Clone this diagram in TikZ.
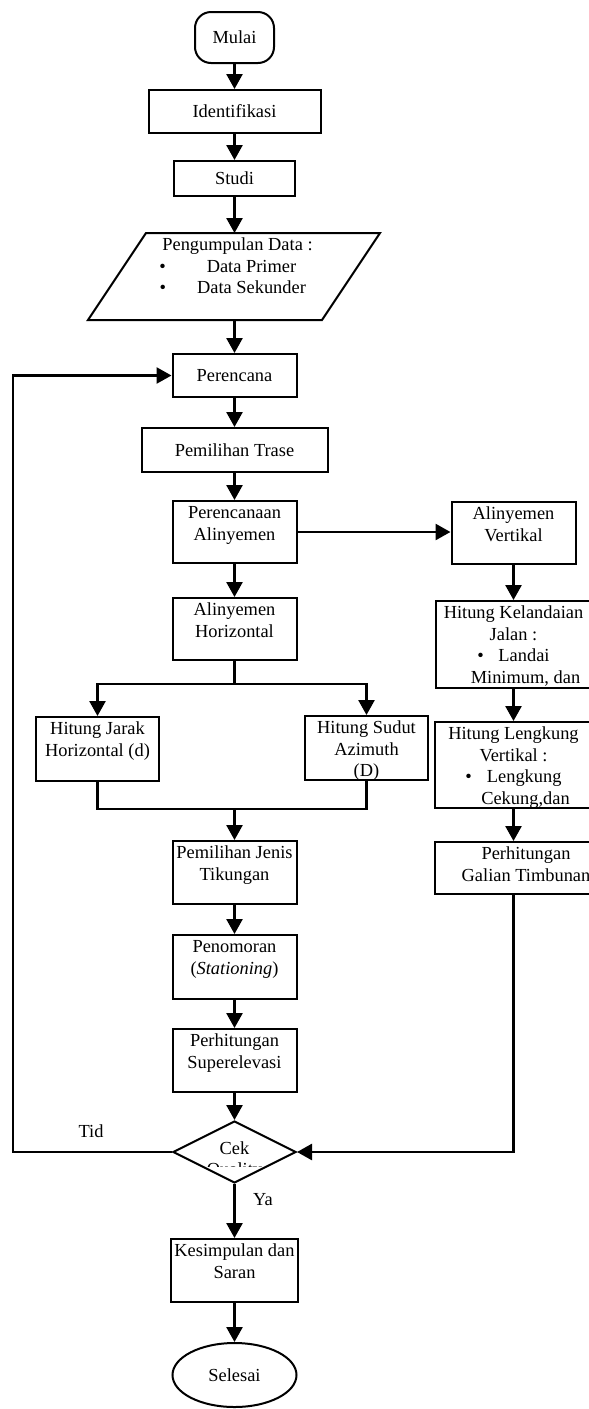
\documentclass[tikz,border=0pt]{standalone}
\usepackage{fontspec}
\setmainfont{Liberation Serif}
\usetikzlibrary{arrows.meta,shapes.geometric}
\newcommand{\flowfont}{\fontsize{18.4pt}{21.5pt}\selectfont}
\newcommand{\toptext}[3]{\parbox[c][#2][t]{#1}{\centering\rule{0pt}{17.5pt}#3}}

\begin{document}
\begin{tikzpicture}[x=1pt,y=-1pt,
  every node/.style={font=\flowfont},
  box/.style={draw,line width=2pt,inner sep=0pt,anchor=north},
  arr/.style={line width=2.6pt,-{Triangle[length=15pt,width=16pt]}},
  link/.style={line width=2.4pt}]
\useasboundingbox (0,0) rectangle (589,1409);

% Main column
\node[box,rounded corners=16pt,minimum width=79pt,minimum height=51pt] (mulai) at (234.5,11) {Mulai};
\node[box,minimum width=172pt,minimum height=43pt] (ident) at (234.5,89) {Identifikasi};
\node[box,minimum width=121pt,minimum height=35pt] (studi) at (234.5,160) {Studi};
\draw[line width=2pt] (146,233) -- (380,233) -- (322,320) -- (88,320) -- cycle;
\node[anchor=north,inner sep=0pt] (data) at (234.5,233) {\toptext{234pt}{87pt}{\hspace*{6pt}Pengumpulan Data :\\
  \hspace*{34pt}\llap{\textbullet\hspace{41pt}}Data Primer\\
  \hspace*{34pt}\llap{\textbullet\hspace{31pt}}Data Sekunder}};
\node[box,minimum width=124pt,minimum height=43pt] (perencana) at (234.5,353) {Perencana};
\node[box,minimum width=186pt,minimum height=44pt] (trase) at (234.5,427) {Pemilihan Trase};
\node[box] (alin) at (234.5,500) {\toptext{124pt}{62pt}{Perencanaan\\Alinyemen}};
\node[box] (horz) at (234.5,597) {\toptext{124pt}{62pt}{Alinyemen\\Horizontal}};
\node[box] (jarak) at (97.5,716) {\toptext{123pt}{64pt}{Hitung Jarak\\Horizontal (d)}};
\node[box] (sudut) at (366.5,715) {\toptext{123pt}{64pt}{Hitung Sudut\\Azimuth\\(D)}};
\node[box] (jenis) at (234.5,840) {\toptext{124pt}{63pt}{Pemilihan Jenis\\Tikungan}};
\node[box] (nomor) at (234.5,934) {\toptext{124pt}{64pt}{Penomoran\\(\textit{Stationing})}};
\node[box] (super) at (234.5,1028) {\toptext{124pt}{63pt}{Perhitungan\\Superelevasi}};
\node[draw,diamond,line width=2pt,inner sep=0pt,minimum width=123pt,minimum height=62pt,
  text height=12.6pt,text depth=8pt] (cek) at (234.5,1152) {Cek};
\begin{scope}
\clip (170,1120) rectangle (300,1166.5);
\node[inner sep=0pt,anchor=base] (cekb) at (234.5,1175.5) {Quality};
\end{scope}
\node[box] (kes) at (234.5,1238) {\toptext{127pt}{63pt}{Kesimpulan dan\\Saran}};
\node[draw,ellipse,line width=2pt,inner sep=0pt,minimum width=124pt,minimum height=64pt] (selesai) at (234.5,1375) {Selesai};

% Right column
\node[box] (vert) at (513.5,501) {\toptext{124pt}{62pt}{Alinyemen\\Vertikal}};
\node[box] (landai) at (513.5,600) {\toptext{156pt}{87pt}{Hitung Kelandaian\\Jalan :\\
  \textbullet\hspace{14.6pt}Landai\\\hspace*{24pt}Minimum, dan}};
\node[box] (lengkung) at (513.5,721) {\toptext{158pt}{86pt}{Hitung Lengkung\\Vertikal :\\
  \textbullet\hspace{15pt}Lengkung\\\hspace*{24pt}Cekung,dan}};
\node[box] (galian) at (526,841) {\toptext{182pt}{52pt}{Perhitungan\\Galian Timbunan}};

% Labels
\node (tid) at (91,1131) {Tid};
\node (ya) at (263,1200) {Ya};

% Connectors
\coordinate (split) at (234.5,684);
\coordinate (join) at (234.5,809);
\coordinate (back) at (13,1152);
\draw[arr] (mulai.south) -- (ident.north);
\draw[arr] (ident.south) -- (studi.north);
\draw[arr] (studi.south) -- (data.north);
\draw[arr] (data.south) -- (perencana.north);
\draw[arr] (perencana.south) -- (trase.north);
\draw[arr] (trase.south) -- (alin.north);
\draw[arr] (alin.south) -- (horz.north);
\draw[link] (horz.south) -- (split);
\draw[arr] (split) -| (jarak.north);
\draw[arr] (split) -| (sudut.north);
\draw[link] (jarak.south) |- (join) -| (sudut.south);
\draw[arr] (join) -- (jenis.north);
\draw[arr] (jenis.south) -- (nomor.north);
\draw[arr] (nomor.south) -- (super.north);
\draw[arr] (super.south) -- (cek.north);
\draw[arr] (cek.south) -- (kes.north);
\draw[arr] (kes.south) -- (selesai.north);
\draw[arr] (cek.west) -- (back) |- (perencana.west);

\draw[arr] (alin.east) -- (alin.east -| vert.west);
\draw[arr] (vert.south) -- (landai.north);
\draw[arr] (landai.south) -- (lengkung.north);
\draw[arr] (lengkung.south) -- (lengkung.south |- galian.north);
\draw[arr] (galian.south -| lengkung.south) |- (cek.east);
\end{tikzpicture}
\end{document}
